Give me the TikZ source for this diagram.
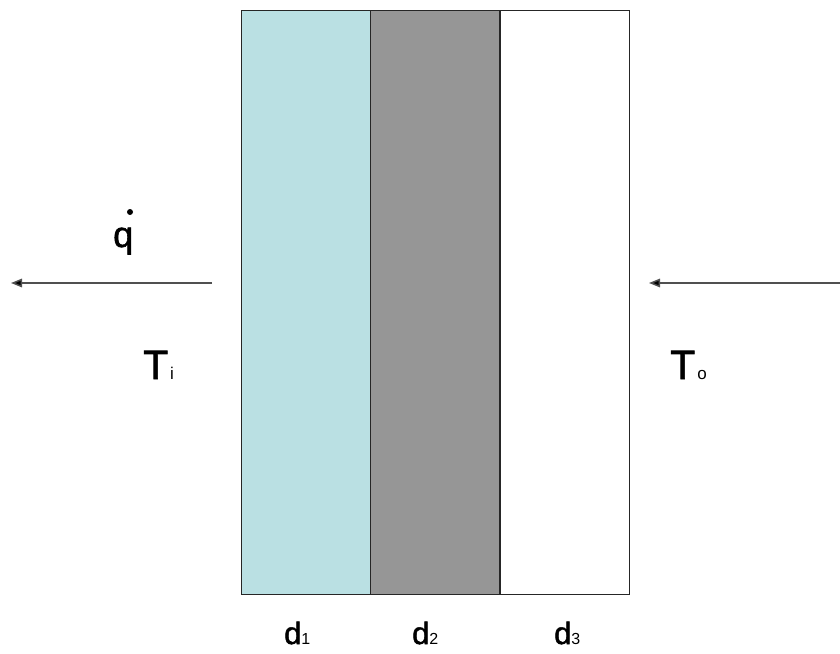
\documentclass[tikz,border=0pt]{standalone}
\usepackage{fontspec}
\setmainfont{Liberation Sans}
\newfontfamily\heavyfont{Liberation Sans}[FakeBold=1.6]
\usetikzlibrary{arrows.meta}
\definecolor{layerblue}{HTML}{BAE0E3}
\definecolor{layergray}{HTML}{969696}
\definecolor{arrowgray}{HTML}{505050}
\tikzset{
  layer/.style={draw=black!85, line width=1.1pt, inner sep=0pt, minimum width=129pt, minimum height=584pt, anchor=north west},
  flow/.style={draw=arrowgray, line width=1.5pt, -{Triangle[length=11pt,width=8.5pt,fill=black]}},
  big/.style={inner sep=0pt, anchor=base west, font=\heavyfont\fontsize{41}{41}\selectfont},
  dlab/.style={inner sep=0pt, anchor=base west, font=\heavyfont\fontsize{31}{31}\selectfont}
}
\newcommand{\smallsub}[1]{{\normalfont\fontsize{17}{17}\selectfont #1}}
\newcommand{\dsub}[1]{{\normalfont\fontsize{16}{16}\selectfont #1}}
\begin{document}
\begin{tikzpicture}[x=1pt,y=-1pt]
\useasboundingbox (0,0) rectangle (840,653);
\node[layer, fill=layerblue] (l1) at (241,10) {};
\node[layer, fill=layergray] (l2) at (370,10) {};
\node[layer, fill=white] (l3) at (499.5,10) {};
\coordinate (a1s) at (212,283);
\coordinate (a1e) at (11,283);
\coordinate (a2s) at (840,283);
\coordinate (a2e) at (649,283);
\draw[flow] (a1s) -- (a1e);
\draw[flow] (a2s) -- (a2e);
\node[inner sep=0pt, anchor=base west, font=\heavyfont\fontsize{36}{36}\selectfont] (q) at (113,247) {q};
\node[circle, fill=black, inner sep=0pt, minimum size=6pt] (qdot) at (130,212) {};
\node[big] (ti) at (143,379) {T\kern2pt\smallsub{i}};
\node[big] (to) at (670,379) {T\kern2pt\smallsub{o}};
\node[dlab] (d1) at (284,644) {d\dsub{1}};
\node[dlab] (d2) at (412,644) {d\dsub{2}};
\node[dlab] (d3) at (554,644) {d\dsub{3}};
\end{tikzpicture}
\end{document}
